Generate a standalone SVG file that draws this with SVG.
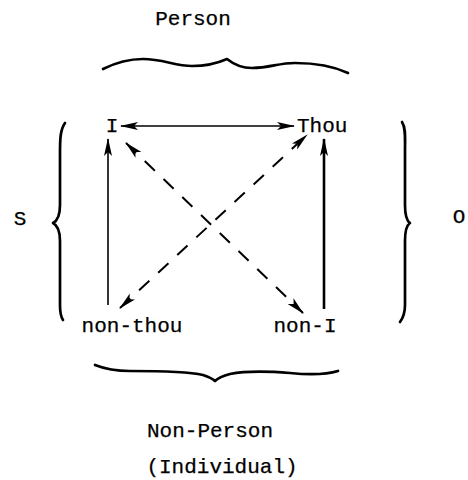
<svg xmlns="http://www.w3.org/2000/svg" width="468" height="480" viewBox="0 0 468 480">
<style>
text{font-family:"Liberation Mono","Courier New",monospace;font-size:21px;fill:#000;stroke:#000;stroke-width:0.25}
.brace{fill:none;stroke:#000;stroke-width:2.7;stroke-linecap:round;stroke-linejoin:round}
.solid{stroke:#000;stroke-width:1.6;fill:none}
.thick{stroke:#000;stroke-width:2.6;fill:none}
.dash{stroke:#000;stroke-width:2;fill:none;stroke-dasharray:14 12}
</style>
<defs>
<marker id="ah" viewBox="0 0 18 9" refX="17" refY="4.5" markerWidth="18" markerHeight="9" markerUnits="userSpaceOnUse" orient="auto-start-reverse">
<path d="M0,0.5 L18,4.5 L0,8.5 L4,4.5 z" fill="#000" stroke="none"/>
</marker>
</defs>
<rect width="468" height="480" fill="#fff"/>
<g id="connectors">
<line class="solid" x1="121" y1="126" x2="294" y2="126" marker-start="url(#ah)" marker-end="url(#ah)"/>
<line class="solid" x1="108" y1="305" x2="108" y2="139" marker-end="url(#ah)"/>
<line class="thick" x1="324" y1="309" x2="324" y2="139" marker-end="url(#ah)"/>
<line class="dash" x1="126" y1="143" x2="303" y2="313" marker-start="url(#ah)" marker-end="url(#ah)"/>
<line class="dash" x1="120" y1="308" x2="307" y2="135" marker-start="url(#ah)" marker-end="url(#ah)"/>
</g>
<g id="node-I"><text x="112" y="132" text-anchor="middle">I</text></g>
<g id="node-Thou"><text x="297" y="132">Thou</text></g>
<g id="node-non-thou"><text x="132" y="332" text-anchor="middle">non-thou</text></g>
<g id="node-non-I"><text x="305" y="332" text-anchor="middle">non-I</text></g>
<g id="label-Person">
<text x="193" y="25" text-anchor="middle">Person</text>
<path class="brace" d="M103,69 C115,63 128,59 143,59 C163,59 175,66 192,66 C205,66 218,63 227,59 C232,63 240,68 252,68 C270,68 278,63 295,63 C318,63 333,66 348,73"/>
</g>
<g id="label-NonPerson">
<path class="brace" d="M95,365 C105,369 115,371 130,371 C160,371 190,372 203,375 C209,377 213,379 215,381 C218,378 222,376 230,374 C245,371 265,371 290,373 C310,375 325,375 338,371"/>
<text x="210" y="437" text-anchor="middle">Non-Person</text>
<text x="222" y="473" text-anchor="middle">(Individual)</text>
</g>
<g id="label-S">
<path class="brace" d="M65,123 C60,130 60,140 60,155 L60,205 C60,215 57,221 53,223 C57,225 60,231 60,241 L60,305 C60,312 61,317 63,320"/>
<text x="20" y="225" text-anchor="middle">S</text>
</g>
<g id="label-O">
<path class="brace" d="M402,122 C406,128 405,138 405,150 L405,205 C405,215 407,221 410,223 C407,225 405,231 405,241 L405,305 C405,313 403,318 400,322"/>
<text x="459" y="223" text-anchor="middle">O</text>
</g>
</svg>
